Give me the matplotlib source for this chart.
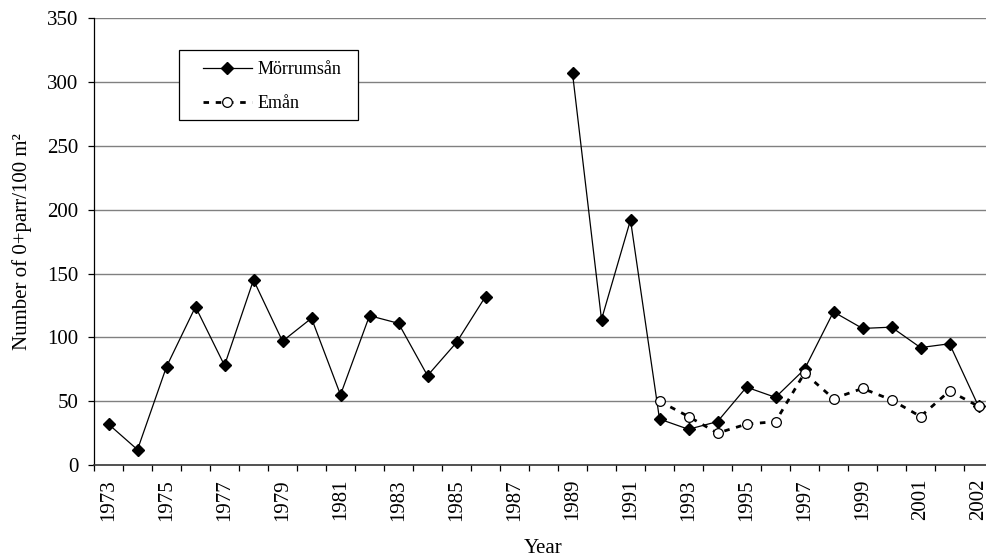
import matplotlib
matplotlib.use("Agg")
import matplotlib.pyplot as plt
from matplotlib.patches import Rectangle
import numpy as np

nan = np.nan

# category labels (every second one shown, as in the original)
x_labels = ["1973", "", "1975", "", "1977", "", "1979", "", "1981", "", "1983", "",
            "1985", "", "1987", "", "1989", "", "1991", "", "1993", "", "1995", "",
            "1997", "", "1999", "", "2001", "", "2002"]

morrum = [32, 12, 77, 124, 78, 145, 97, 115, 55, 117, 111, 70, 96, 132, nan, nan,
          307, 114, 192, 36, 28, 34, 61, 53, 75, 120, 107, 108, 92, 95, 46]

eman = [nan] * 19 + [50, 38, 25, 32, 34, 72, 52, 60, 51, 38, 58, 46]

y_ticks = [0, 50, 100, 150, 200, 250, 300, 350]

plt.rcParams['font.family'] = ['Liberation Serif', 'DejaVu Serif']

W, H = 986, 560
fig = plt.figure(figsize=(W / 100, H / 100), dpi=100)
ax = fig.add_axes([94 / W, 1 - 465 / H, 899 / W, (465 - 18.3) / H])

x = np.arange(len(x_labels))

# horizontal grid
for v in y_ticks[1:]:
    ax.axhline(v, color='#808080', lw=1.0, zorder=1)

ax.plot(x, morrum, color='black', lw=0.9, marker='D', ms=6.0,
        markerfacecolor='black', markeredgecolor='black', zorder=3,
        label='Mörrumsån')
ax.plot(x, eman, color='black', lw=2.0, linestyle=(0, (2.0, 2.4)), marker='o',
        ms=7.0, markerfacecolor='white', markeredgecolor='black',
        markeredgewidth=0.9, zorder=4, label='Emån')

ax.set_xlim(-0.5, len(x_labels) - 0.5)
ax.set_ylim(0, 350)

ax.set_yticks(y_ticks)
ax.tick_params(axis='y', labelsize=15, length=4.3, width=0.9, pad=7, direction='out')

ax.set_xticks(x)
ax.set_xticklabels(x_labels, rotation=90, fontsize=15)
ax.set_xticks(np.arange(-0.5, len(x_labels)), minor=True)
ax.tick_params(axis='x', which='major', length=0, pad=10)
ax.tick_params(axis='x', which='minor', length=4.5, width=0.9, direction='out')

for s in ['top', 'right']:
    ax.spines[s].set_visible(False)
ax.spines['left'].set_color('black')
ax.spines['left'].set_linewidth(0.9)
ax.spines['bottom'].set_color('#333333')
ax.spines['bottom'].set_linewidth(1.2)

ax.set_ylabel('Number of 0+parr/100 m²', fontsize=15)
ax.yaxis.set_label_coords(-0.069, 0.5)
ax.set_xlabel('Year', fontsize=15)
ax.xaxis.set_label_coords(0.5, -0.166)

# legend box drawn by hand so its padding matches the original
box = Rectangle((179 / W, 1 - 120 / H), 179 / W, 70 / H, transform=fig.transFigure,
                facecolor='white', edgecolor='black', lw=0.9, zorder=2)
fig.patches.append(box)
handles, labels = ax.get_legend_handles_labels()
leg = fig.legend(handles, labels, loc='upper left',
                 bbox_to_anchor=(203 / W, 1 - 61 / H), borderaxespad=0,
                 borderpad=0, fontsize=13, numpoints=1, handlelength=2.7,
                 handletextpad=0.3, labelspacing=0.95, frameon=False)
leg.set_zorder(5)

fig.savefig('out.png', dpi=100)
